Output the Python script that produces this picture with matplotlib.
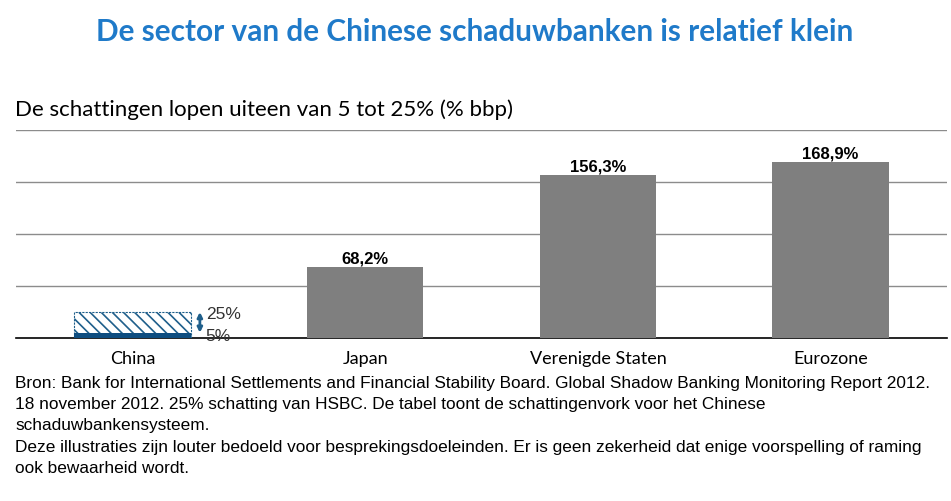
import matplotlib
matplotlib.use('Agg')
import matplotlib.pyplot as plt
import numpy as np

##### data #####
categories = ['China', 'Japan', 'Verenigde Staten', 'Eurozone']
values = [0, 68.2, 156.3, 168.9]
value_labels = ['', '68,2%', '156,3%', '168,9%']
china_low = 5
china_high = 25

title = 'De sector van de Chinese schaduwbanken is relatief klein'
subtitle = 'De schattingen lopen uiteen van 5 tot 25% (% bbp)'
footnote = ('Bron: Bank for International Settlements and Financial Stability Board. Global Shadow Banking Monitoring Report 2012.\n'
            '18 november 2012. 25% schatting van HSBC. De tabel toont de schattingenvork voor het Chinese\n'
            'schaduwbankensysteem.\n'
            'Deze illustraties zijn louter bedoeld voor besprekingsdoeleinden. Er is geen zekerheid dat enige voorspelling of raming\n'
            'ook bewaarheid wordt.')

narrow = ['Liberation Sans Narrow', 'Liberation Sans', 'DejaVu Sans']

##### plot #####
fig = plt.figure(figsize=(9.51, 5.02), dpi=100)
W, H = 951, 502
ax = fig.add_axes([16 / W, 1 - 339 / H, 931 / W, 208 / H])

x = np.arange(len(categories))
ax.bar(x[1:], values[1:], width=0.5, color='#7f7f7f', zorder=3)

# china: solid low estimate, hatched range up to high estimate
plt.rcParams['hatch.color'] = '#1f5f8b'
plt.rcParams['hatch.linewidth'] = 1.2
ax.bar(x[0], china_high, width=0.5, facecolor='white', edgecolor='#1f5f8b',
       hatch='\\\\\\', linestyle=(0, (2, 1)), linewidth=0.8, zorder=3)
ax.bar(x[0], china_low, width=0.5, color='#0e4d80', zorder=4)
ax.annotate('', xy=(x[0] + 0.29, china_high), xytext=(x[0] + 0.29, china_low),
            arrowprops=dict(arrowstyle='<|-|>', color='#1f5f8b', lw=2,
                            mutation_scale=7, shrinkA=0, shrinkB=0))
ax.text(x[0] + 0.315, china_high - 1, '25%', fontsize=12.5, family=narrow,
        va='center', ha='left', color='#333333')
ax.text(x[0] + 0.315, china_low - 3, '5%', fontsize=12.5, family=narrow,
        va='center', ha='left', color='#333333')

for xi, v, lab in zip(x[1:], values[1:], value_labels[1:]):
    ax.text(xi, v + 1.5, lab, ha='center', va='bottom', fontsize=12,
            weight='bold', family=narrow)

ax.set_xlim(-0.5, 3.5)
ax.set_ylim(0, 200)
ax.set_yticks([50, 100, 150, 200])
ax.yaxis.grid(True, color='#8c8c8c', linewidth=1)
ax.set_axisbelow(True)
ax.tick_params(axis='y', left=False, labelleft=False)
ax.tick_params(axis='x', length=0, pad=9)
ax.set_xticks(x)
ax.set_xticklabels(categories, fontsize=13, family='Lato')
for s in ['top', 'right', 'left']:
    ax.spines[s].set_visible(False)
ax.spines['bottom'].set_color('black')
ax.spines['bottom'].set_linewidth(1.2)

fig.text(475 / W, 1 - 32 / H, title, ha='center', va='center', fontsize=21.4,
         weight='bold', color='#1f7ac9', family='Lato')
fig.text(15 / W, 1 - 110 / H, subtitle, ha='left', va='center', fontsize=16,
         family='Lato')
fig.text(15 / W, 1 - 376 / H, footnote, ha='left', va='top', fontsize=12.4,
         family=narrow, linespacing=1.52)

plt.savefig('out.png', dpi=100)
